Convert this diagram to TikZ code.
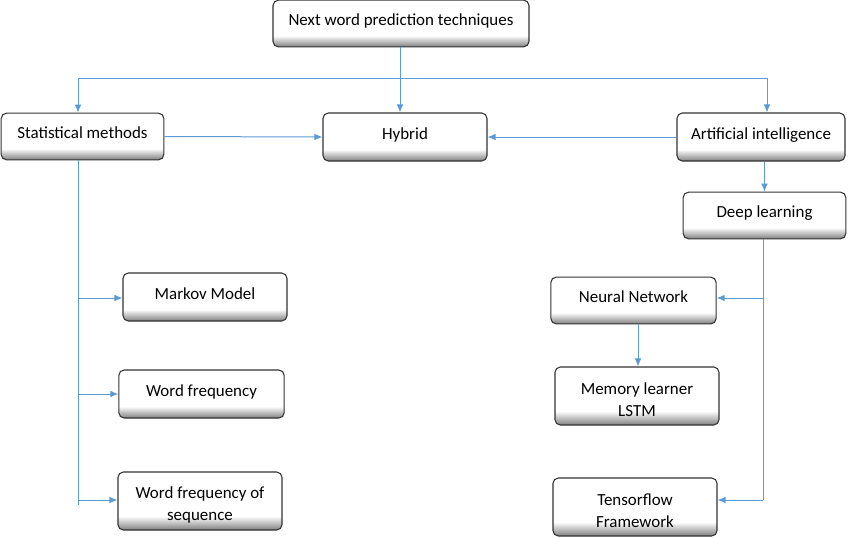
\documentclass[tikz,border=0pt]{standalone}
\usepackage{fontspec}
\setmainfont{Carlito}
\usetikzlibrary{arrows.meta}
\definecolor{lineblue}{HTML}{5B9BD5}
\pgfdeclareverticalshading{boxshade}{100bp}{color(0bp)=(black!50); color(25bp)=(black!50); color(37bp)=(white); color(100bp)=(white)}
\tikzset{
  box/.style={draw=black!80, line width=0.8pt, rounded corners=4pt, shading=boxshade,
    inner sep=0pt, font=\fontsize{12.7}{16.5}\selectfont, align=center},
  one/.style={text height=10.5pt, text depth=7.5pt},
  two/.style={text height=31pt},
  lineb/.style={draw=lineblue, line width=0.75pt},
  link/.style={lineb, -{Latex[length=6pt,width=5pt]}},
}
\begin{document}
\begin{tikzpicture}[x=0.75pt,y=-0.75pt]
\useasboundingbox (0,0) rectangle (850,537);
% boxes (centre, width, height in px)
\node[box,one,minimum width=192pt,minimum height=35pt] (top) at (401,23.5) {Next word prediction techniques};
\node[box,one,minimum width=122pt,minimum height=35pt] (stat) at (82.5,136.5) {Statistical methods};
\node[box,one,minimum width=123pt,minimum height=36pt] (hyb) at (405,137) {Hybrid};
\node[box,one,minimum width=126pt,minimum height=36pt] (ai) at (761,137) {Artificial intelligence};
\node[box,one,minimum width=122pt,minimum height=35pt] (dl) at (764.5,215.5) {Deep learning};
\node[box,one,minimum width=123pt,minimum height=36pt] (markov) at (205,297) {Markov Model};
\node[box,one,minimum width=124pt,minimum height=36pt] (wf) at (201.5,394) {Word frequency};
\node[box,two,minimum width=123pt,minimum height=43.5pt] (wfs) at (200,501) {Word frequency of\\sequence};
\node[box,one,minimum width=124pt,minimum height=35pt] (nn) at (633.5,300.5) {Neural Network};
\node[box,two,minimum width=123pt,minimum height=43.5pt] (lstm) at (637,396) {Memory learner\\LSTM};
\node[box,two,minimum width=123pt,minimum height=43.5pt] (tf) at (635,507) {Tensorflow\\Framework};
% coordinates
\coordinate (hL) at (78,78);
\coordinate (hR) at (767,78);
\coordinate (sv) at (78,505);
\coordinate (s1) at (78,298);
\coordinate (s2) at (78,394);
\coordinate (s3) at (78,500);
\coordinate (d1) at (763,298);
\coordinate (d2) at (763,500);
\coordinate (nl) at (638,324);
% connectors
\draw[link] (top.south -| 400,0) -- (hyb.north -| 400,0);
\draw[lineb] (hL) -- (hR);
\draw[link] (hL) -- (hL |- stat.north);
\draw[link] (hR) -- (hR |- ai.north);
\draw[link] (stat.east) -- (hyb.west);
\draw[link] (ai.west) -- (hyb.east);
\draw[link] (dl.north |- ai.south) -- (dl.north);
\draw[lineb] (stat.south -| sv) -- (sv);
\draw[link] (s1) -- (s1 -| markov.west);
\draw[link] (s2) -- (s2 -| wf.west);
\draw[link] (s3) -- (s3 -| wfs.west);
\draw[lineb] (dl.south -| d2) -- (d2);
\draw[link] (d1) -- (d1 -| nn.east);
\draw[link] (d2) -- (d2 -| tf.east);
\draw[link] (nl) -- (nl |- lstm.north);
\end{tikzpicture}
\end{document}
